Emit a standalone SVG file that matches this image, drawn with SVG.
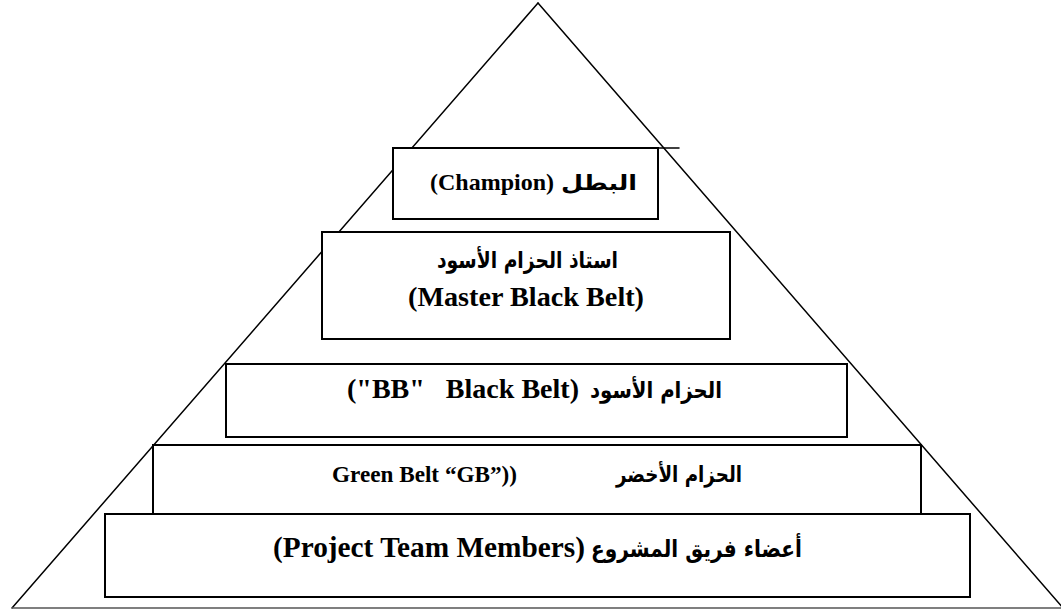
<svg xmlns="http://www.w3.org/2000/svg" width="1061" height="610" viewBox="0 0 1061 610">
  <style>
    .edge { stroke: #000; stroke-width: 1.5; fill: none; stroke-linecap: round; }
    .base { stroke: #555; stroke-width: 1.5; fill: none; }
    .box { fill: #fff; stroke: #000; stroke-width: 2; }
    .lat { font-family: "Liberation Serif", serif; font-weight: bold; fill: #000; }
    .ar { font-family: "DejaVu Sans", sans-serif; font-weight: bold; fill: #000; }
  </style>

  <!-- pyramid outline -->
  <g id="connectors">
    <line class="edge" x1="538" y1="3" x2="12" y2="608"/>
    <line class="edge" x1="538" y1="3" x2="1063" y2="608"/>
    <line class="base" x1="12" y1="608" x2="1061" y2="608"/>
  </g>

  <!-- level 1 -->
  <g id="champion">
    <rect class="box" x="393" y="148" width="265" height="71"/>
    <line class="edge" x1="640" y1="148" x2="679" y2="148"/>
    <text class="lat" x="430" y="190" font-size="24" textLength="124" lengthAdjust="spacingAndGlyphs">(Champion)</text>
    <text class="ar" x="637" y="190" font-size="21" text-anchor="end" textLength="76" lengthAdjust="spacingAndGlyphs">البطل</text>
  </g>

  <!-- level 2 -->
  <g id="master-black-belt">
    <rect class="box" x="322" y="232" width="408" height="107"/>
    <text class="ar" x="437" y="268" font-size="23" textLength="181" lengthAdjust="spacingAndGlyphs">استاذ الحزام الأسود</text>
    <text class="lat" x="408" y="306" font-size="28" textLength="236" lengthAdjust="spacingAndGlyphs">(Master Black Belt)</text>
  </g>

  <!-- level 3 -->
  <g id="black-belt">
    <rect class="box" x="226" y="364" width="621" height="73"/>
    <text class="lat" x="347" y="398" font-size="28" xml:space="preserve" textLength="232" lengthAdjust="spacingAndGlyphs">("BB"   Black Belt)</text>
    <text class="ar" x="590" y="398" font-size="23" textLength="132" lengthAdjust="spacingAndGlyphs">الحزام الأسود</text>
  </g>

  <!-- level 4 -->
  <g id="green-belt">
    <rect class="box" x="153" y="445" width="768" height="70"/>
    <text class="lat" x="332" y="482" font-size="23" textLength="185" lengthAdjust="spacingAndGlyphs">Green Belt “GB”))</text>
    <text class="ar" x="616" y="482" font-size="22" textLength="126" lengthAdjust="spacingAndGlyphs">الحزام الأخضر</text>
  </g>

  <!-- level 5 -->
  <g id="team-members">
    <rect class="box" x="105" y="514" width="865" height="83"/>
    <text class="lat" x="273" y="557" font-size="29" textLength="312" lengthAdjust="spacingAndGlyphs">(Project Team Members)</text>
    <text class="ar" x="591" y="557" font-size="24" textLength="211" lengthAdjust="spacingAndGlyphs">أعضاء فريق المشروع</text>
  </g>
</svg>
